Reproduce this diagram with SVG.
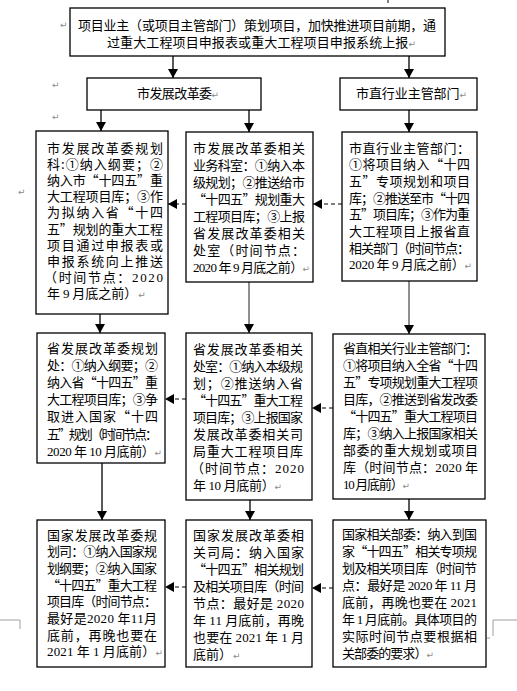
<svg xmlns="http://www.w3.org/2000/svg" width="517" height="691" viewBox="0 0 517 691">
<style>
.box{fill:#fff;stroke:#000;stroke-width:1.3}
.t{font-family:"Noto Sans CJK SC","Noto Sans",sans-serif;font-size:13px;fill:#000}
.n{font-family:"Liberation Serif",serif}
.pm{font-family:"DejaVu Sans",sans-serif;font-size:9px;fill:#8a8a8a}
.ln{stroke:#000;stroke-width:1.3;fill:none}
.lg{stroke:#6a6a6a;stroke-width:1.5;fill:none}
.ds{stroke:#000;stroke-width:1;stroke-dasharray:4,3;fill:none}
.cm{stroke:#a0a0a0;stroke-width:1;fill:none}
</style>
<defs>
<marker id="ah" viewBox="0 0 9 10" markerWidth="9" markerHeight="10" markerUnits="userSpaceOnUse" refX="9" refY="5" orient="auto">
<path d="M0,0 L9,5 L0,10 z" fill="#000"/>
</marker>
</defs>
<rect width="517" height="691" fill="#fff"/>

<g id="marks">
<text class="pm" x="60" y="28">↵</text>
<text class="pm" x="52" y="88">↵</text>
<text class="pm" x="52" y="120">↵</text>
<text class="pm" x="18" y="195">↵</text>
<path class="cm" d="M0,620 H20 V629"/>
<path class="cm" d="M517,620 H493 V636 M487,638 H490"/>
<line x1="388" y1="0" x2="388" y2="3" stroke="#000" stroke-width="1"/>
</g>

<g id="connectors">
<line class="ln" x1="173" y1="56" x2="173" y2="78" marker-end="url(#ah)"/>
<line class="ln" x1="409" y1="56" x2="409" y2="78" marker-end="url(#ah)"/>
<line class="ln" x1="101" y1="110" x2="101" y2="131" marker-end="url(#ah)"/>
<line class="ln" x1="249" y1="110" x2="249" y2="132" marker-end="url(#ah)"/>
<line class="ln" x1="409" y1="110" x2="409" y2="132" marker-end="url(#ah)"/>
<line class="ln" x1="100" y1="314" x2="100" y2="333" marker-end="url(#ah)"/>
<line class="lg" x1="249" y1="282" x2="249" y2="333" marker-end="url(#ah)"/>
<line class="lg" x1="409" y1="281" x2="409" y2="334" marker-end="url(#ah)"/>
<line class="ln" x1="102" y1="463" x2="102" y2="520" marker-end="url(#ah)"/>
<line class="ln" x1="250" y1="500" x2="250" y2="520" marker-end="url(#ah)"/>
<line class="ln" x1="409" y1="499" x2="409" y2="520" marker-end="url(#ah)"/>
<line class="ds" x1="342" y1="204" x2="313" y2="204" marker-end="url(#ah)"/>
<line class="ds" x1="186" y1="204" x2="168" y2="204" marker-end="url(#ah)"/>
<line class="ds" x1="333" y1="408" x2="312" y2="408" marker-end="url(#ah)"/>
<line class="ds" x1="186" y1="399" x2="165" y2="399" marker-end="url(#ah)"/>
<line class="ds" x1="333" y1="588" x2="312" y2="588" marker-end="url(#ah)"/>
<line class="ds" x1="186" y1="587" x2="165" y2="587" marker-end="url(#ah)"/>
</g>

<g id="top">
<rect class="box" x="70" y="8" width="375" height="48"/>
<text class="t"><tspan x="78" y="29.5" textLength="358" lengthAdjust="spacing">项目业主（或项目主管部门）策划项目，加快推进项目前期，通</tspan><tspan x="107" y="46.5" textLength="309" lengthAdjust="spacing">过重大工程项目申报表或重大工程项目申报系统上报<tspan class="pm">↵</tspan></tspan></text>
</g>

<g id="city-ndrc">
<rect class="box" x="87" y="78" width="174" height="32"/>
<text class="t" x="137" y="97.5" textLength="82" lengthAdjust="spacing">市发展改革委<tspan class="pm">↵</tspan></text>
</g>

<g id="city-dept">
<rect class="box" x="340" y="78" width="137" height="32"/>
<text class="t" x="356" y="97.5" textLength="111" lengthAdjust="spacing">市直行业主管部门<tspan class="pm">↵</tspan></text>
</g>

<g id="boxA">
<rect class="box" x="36" y="131" width="132" height="183"/>
<text class="t"><tspan x="47" y="152.5" textLength="116" lengthAdjust="spacing">市发展改革委规划</tspan><tspan x="47" y="168.7" textLength="116" lengthAdjust="spacing">科:①纳入纲要；②</tspan><tspan x="47" y="184.9" textLength="116" lengthAdjust="spacing">纳入市“十四五”重</tspan><tspan x="47" y="201.1" textLength="116" lengthAdjust="spacing">大工程项目库；③作</tspan><tspan x="47" y="217.3" textLength="116" lengthAdjust="spacing">为拟纳入省“十四</tspan><tspan x="47" y="233.5" textLength="116" lengthAdjust="spacing">五”规划的重大工程</tspan><tspan x="47" y="249.7" textLength="116" lengthAdjust="spacing">项目通过申报表或</tspan><tspan x="47" y="265.9" textLength="116" lengthAdjust="spacing">申报系统向上推送</tspan><tspan x="44" y="282.1" textLength="119" lengthAdjust="spacing">（时间节点：<tspan class="n">2020</tspan></tspan><tspan x="47" y="298.3">年 <tspan class="n">9</tspan> 月底之前）<tspan class="pm" dx="1">↵</tspan></tspan></text>
</g>

<g id="boxB">
<rect class="box" x="186" y="132" width="127" height="150"/>
<text class="t"><tspan x="193" y="152.5" textLength="112" lengthAdjust="spacing">市发展改革委相关</tspan><tspan x="193" y="169.5" textLength="112" lengthAdjust="spacing">业务科室：①纳入本</tspan><tspan x="193" y="186.5" textLength="112" lengthAdjust="spacing">级规划；②推送给市</tspan><tspan x="193" y="203.5" textLength="112" lengthAdjust="spacing">“十四五”规划重大</tspan><tspan x="193" y="220.5" textLength="112" lengthAdjust="spacing">工程项目库；③上报</tspan><tspan x="193" y="237.5" textLength="112" lengthAdjust="spacing">省发展改革委相关</tspan><tspan x="193" y="254.5" textLength="112" lengthAdjust="spacing">处室（时间节点：</tspan><tspan x="193" y="271.5" textLength="117" lengthAdjust="spacing"><tspan class="n">2020</tspan> 年 <tspan class="n">9</tspan> 月底之前）<tspan class="pm">↵</tspan></tspan></text>
</g>

<g id="boxC">
<rect class="box" x="342" y="132" width="135" height="149"/>
<text class="t"><tspan x="349" y="152.5" textLength="121" lengthAdjust="spacing">市直行业主管部门：</tspan><tspan x="349" y="169.2" textLength="121" lengthAdjust="spacing">①将项目纳入“十四</tspan><tspan x="349" y="185.9" textLength="121" lengthAdjust="spacing">五”专项规划和项目</tspan><tspan x="349" y="202.6" textLength="121" lengthAdjust="spacing">库；②推送至市“十四</tspan><tspan x="349" y="219.3" textLength="121" lengthAdjust="spacing">五”项目库；③作为重</tspan><tspan x="349" y="236" textLength="121" lengthAdjust="spacing">大工程项目上报省直</tspan><tspan x="349" y="252.7" textLength="121" lengthAdjust="spacing">相关部门（时间节点：</tspan><tspan x="349" y="269.4" textLength="123" lengthAdjust="spacing"><tspan class="n">2020</tspan> 年 <tspan class="n">9</tspan> 月底之前）<tspan class="pm">↵</tspan></tspan></text>
</g>

<g id="boxD">
<rect class="box" x="37" y="333" width="128" height="130"/>
<text class="t"><tspan x="47" y="352.5" textLength="111" lengthAdjust="spacing">省发展改革委规划</tspan><tspan x="47" y="369.7" textLength="111" lengthAdjust="spacing">处：①纳入纲要；②</tspan><tspan x="47" y="386.9" textLength="111" lengthAdjust="spacing">纳入省“十四五”重</tspan><tspan x="47" y="404.1" textLength="111" lengthAdjust="spacing">大工程项目库；③争</tspan><tspan x="47" y="421.3" textLength="111" lengthAdjust="spacing">取进入国家“十四</tspan><tspan x="47" y="438.5" textLength="111" lengthAdjust="spacing">五”规划（时间节点：</tspan><tspan x="47" y="455.7" textLength="115" lengthAdjust="spacing"><tspan class="n">2020</tspan> 年 <tspan class="n">10</tspan> 月底前）<tspan class="pm">↵</tspan></tspan></text>
</g>

<g id="boxE">
<rect class="box" x="186" y="333" width="126" height="167"/>
<text class="t"><tspan x="193" y="353.5" textLength="110" lengthAdjust="spacing">省发展改革委相关</tspan><tspan x="193" y="370.5" textLength="110" lengthAdjust="spacing">处室：①纳入本级规</tspan><tspan x="193" y="387.5" textLength="110" lengthAdjust="spacing">划；②推送纳入省</tspan><tspan x="193" y="404.5" textLength="110" lengthAdjust="spacing">“十四五”重大工程</tspan><tspan x="193" y="421.5" textLength="110" lengthAdjust="spacing">项目库；③上报国家</tspan><tspan x="193" y="438.5" textLength="110" lengthAdjust="spacing">发展改革委相关司</tspan><tspan x="193" y="455.5" textLength="110" lengthAdjust="spacing">局重大工程项目库</tspan><tspan x="191" y="472.5" textLength="113" lengthAdjust="spacing">（时间节点：<tspan class="n">2020</tspan></tspan><tspan x="193" y="489.5" textLength="89" lengthAdjust="spacing">年 <tspan class="n">10</tspan> 月底前）<tspan class="pm">↵</tspan></tspan></text>
</g>

<g id="boxF">
<rect class="box" x="333" y="334" width="152" height="165"/>
<text class="t"><tspan x="343" y="352.5" textLength="135" lengthAdjust="spacing">省直相关行业主管部门：</tspan><tspan x="343" y="369.5" textLength="135" lengthAdjust="spacing">①将项目纳入全省“十四</tspan><tspan x="343" y="386.5" textLength="135" lengthAdjust="spacing">五”专项规划重大工程项</tspan><tspan x="343" y="403.5" textLength="135" lengthAdjust="spacing">目库，②推送到省发改委</tspan><tspan x="343" y="420.5" textLength="135" lengthAdjust="spacing">“十四五”重大工程项目</tspan><tspan x="343" y="437.5" textLength="135" lengthAdjust="spacing">库；③纳入上报国家相关</tspan><tspan x="343" y="454.5" textLength="135" lengthAdjust="spacing">部委的重大规划或项目</tspan><tspan x="343" y="471.5" textLength="135" lengthAdjust="spacing">库（时间节点：<tspan class="n">2020</tspan> 年</tspan><tspan x="343" y="488.5" textLength="67" lengthAdjust="spacing"><tspan class="n">10</tspan> 月底前）<tspan class="pm">↵</tspan></tspan></text>
</g>

<g id="boxG">
<rect class="box" x="37" y="520" width="128" height="147"/>
<text class="t"><tspan x="47" y="539.5" textLength="110" lengthAdjust="spacing">国家发展改革委规</tspan><tspan x="47" y="556.2" textLength="110" lengthAdjust="spacing">划司：①纳入国家规</tspan><tspan x="47" y="572.9" textLength="110" lengthAdjust="spacing">划纲要；②纳入国家</tspan><tspan x="47" y="589.6" textLength="110" lengthAdjust="spacing">“十四五”重大工程</tspan><tspan x="47" y="606.3" textLength="110" lengthAdjust="spacing">项目库（时间节点：</tspan><tspan x="47" y="623" textLength="110" lengthAdjust="spacing">最好是<tspan class="n">2020</tspan> 年<tspan class="n">11</tspan>月</tspan><tspan x="47" y="639.7" textLength="110" lengthAdjust="spacing">底前，再晚也要在</tspan><tspan x="47" y="656.4" textLength="116" lengthAdjust="spacing"><tspan class="n">2021</tspan> 年 <tspan class="n">1</tspan> 月底前）<tspan class="pm">↵</tspan></tspan></text>
</g>

<g id="boxH">
<rect class="box" x="186" y="520" width="126" height="147"/>
<text class="t"><tspan x="193" y="539.5" textLength="111" lengthAdjust="spacing">国家发展改革委相</tspan><tspan x="193" y="556.5" textLength="111" lengthAdjust="spacing">关司局：纳入国家</tspan><tspan x="193" y="573.5" textLength="111" lengthAdjust="spacing">“十四五”相关规划</tspan><tspan x="193" y="590.5" textLength="111" lengthAdjust="spacing">及相关项目库（时间</tspan><tspan x="193" y="607.5" textLength="111" lengthAdjust="spacing">节点：最好是 <tspan class="n">2020</tspan></tspan><tspan x="193" y="624.5" textLength="111" lengthAdjust="spacing">年 <tspan class="n">11</tspan> 月底前，再晚</tspan><tspan x="193" y="641.5" textLength="111" lengthAdjust="spacing">也要在 <tspan class="n">2021</tspan> 年 <tspan class="n">1</tspan> 月</tspan><tspan x="193" y="658.5">底前）<tspan class="pm" dx="1">↵</tspan></tspan></text>
</g>

<g id="boxI">
<rect class="box" x="333" y="520" width="153" height="147"/>
<text class="t"><tspan x="342" y="538.5" textLength="135" lengthAdjust="spacing">国家相关部委：纳入到国</tspan><tspan x="342" y="555.5" textLength="135" lengthAdjust="spacing">家“十四五”相关专项规</tspan><tspan x="342" y="572.5" textLength="135" lengthAdjust="spacing">划及相关项目库（时间节</tspan><tspan x="342" y="589.5" textLength="135" lengthAdjust="spacing">点：最好是 <tspan class="n">2020</tspan> 年 <tspan class="n">11</tspan> 月</tspan><tspan x="342" y="606.5" textLength="135" lengthAdjust="spacing">底前，再晚也要在 <tspan class="n">2021</tspan></tspan><tspan x="342" y="623.5" textLength="135" lengthAdjust="spacing">年 <tspan class="n">1</tspan> 月底前。具体项目的</tspan><tspan x="342" y="640.5" textLength="135" lengthAdjust="spacing">实际时间节点要根据相</tspan><tspan x="342" y="657.5" textLength="92" lengthAdjust="spacing">关部委的要求）<tspan class="pm">↵</tspan></tspan></text>
</g>
</svg>
